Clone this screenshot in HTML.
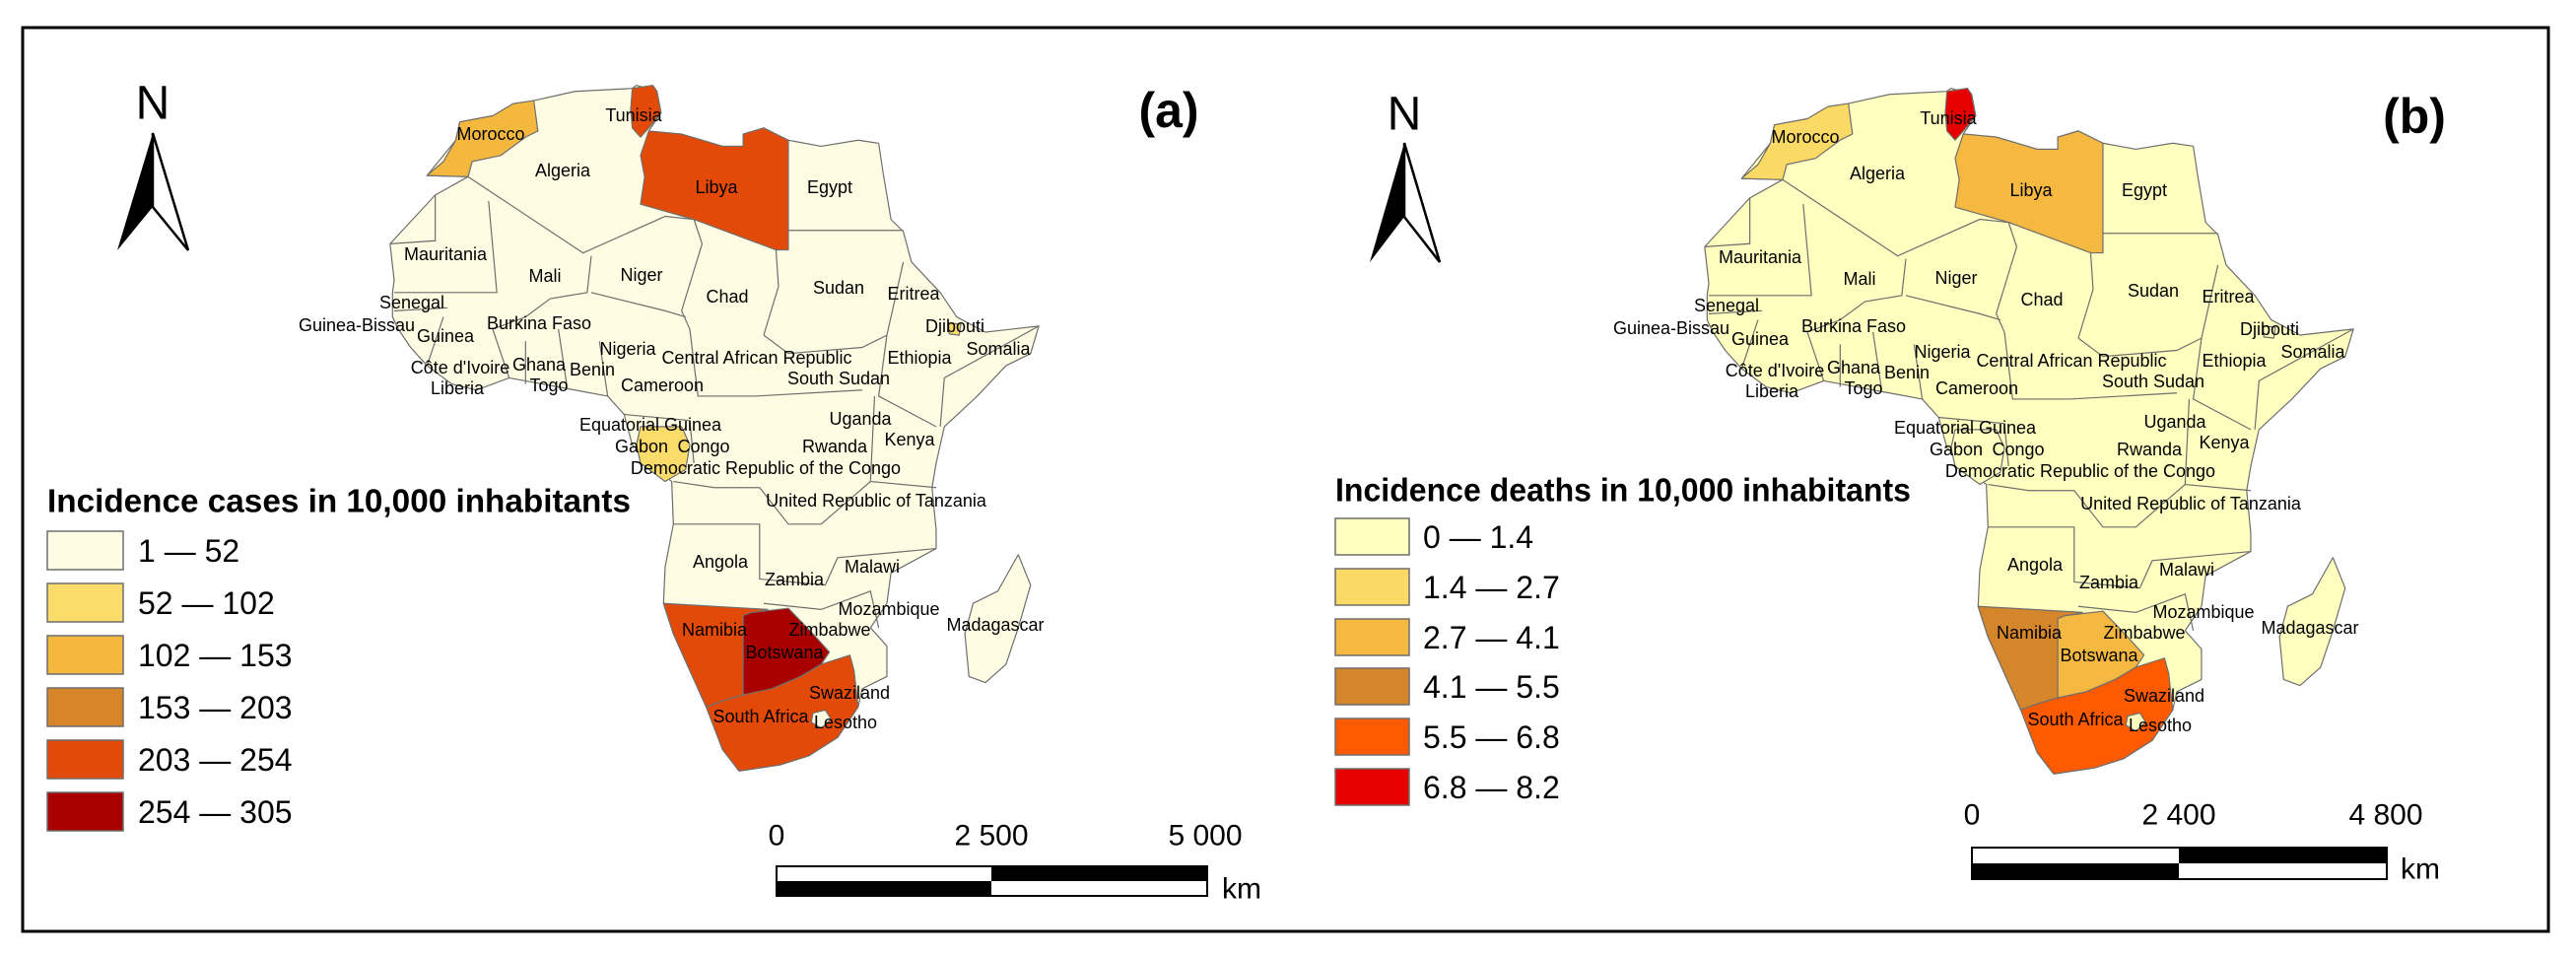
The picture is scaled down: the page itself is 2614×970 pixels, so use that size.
<!DOCTYPE html>
<html><head><meta charset="utf-8"><style>
html,body{margin:0;padding:0;background:#fff;}
svg{display:block;font-family:"Liberation Sans",Arial,sans-serif;}
.lbl{font-family:"Liberation Sans",Arial,sans-serif;font-size:18px;fill:#000;text-anchor:middle;dominant-baseline:central;}
.poly{stroke:#6e6e6e;stroke-width:1.2;vector-effect:non-scaling-stroke;stroke-linejoin:round;}
.bd{fill:none;stroke:#6e6e6e;stroke-width:1.2;vector-effect:non-scaling-stroke;}
.lg{font-size:32px;dominant-baseline:central;}
.ttl{font-weight:bold;font-size:33px;font-family:"Liberation Sans Narrow","Liberation Sans",sans-serif;dominant-baseline:central;}
.sc{font-size:30px;text-anchor:middle;dominant-baseline:central;}
</style></head><body>
<svg width="2614" height="970" viewBox="0 0 2614 970">
<rect x="0" y="0" width="2614" height="970" fill="#fff"/>
<rect x="23" y="28" width="2563" height="917" fill="none" stroke="#000" stroke-width="3"/>

<!-- PANEL A -->
<g id="panelA">
 <g id="mapA">
  <g transform="scale(0.8333,0.6184)">
   <path class="poly" fill="#fefde3" d="M600,190 L650,165 L700,150 L770,145 L775,140 L800,150 L805,185 L790,215 L830,220 L880,240 L905,240 L905,220 L930,210 L960,230 L1000,240 L1045,230 L1070,235 L1075,280 L1085,360 L1100,380 L1110,430 L1145,480 L1165,520 L1200,545 L1265,535 L1255,580 L1225,600 L1190,650 L1150,700 L1140,760 L1135,800 L1140,870 L1140,900 L1085,940 L1080,990 L1060,1030 L1080,1060 L1080,1110 L1050,1130 L1045,1160 L1020,1210 L985,1240 L950,1255 L900,1265 L880,1230 L860,1160 L840,1100 L820,1040 L808,990 L810,930 L820,860 L818,790 L800,770 L770,730 L760,680 L740,650 L700,640 L660,630 L620,620 L580,640 L550,630 L520,600 L500,570 L485,540 L478,520 L478,480 L480,460 L475,400 L530,320 L570,290 L520,288 L555,230 L560,200 Z"/>
   <path class="poly" fill="#fefde3" d="M1240,910 L1255,960 L1240,1030 L1225,1090 L1200,1120 L1180,1110 L1175,1040 L1185,990 L1215,970 Z"/>
   <path class="bd" d="M570,290 L710,415 L810,355 L845,360 M530,320 L530,395 L475,400 M595,330 L605,480 L480,480 M720,420 L715,480 L670,490 L640,520 L600,540 M845,360 L855,400 L830,510 L840,540 M945,410 L948,470 L930,550 M960,378 L1100,378 M720,480 L810,510 L835,520 M840,540 L850,650 L920,650 L1050,640 M930,550 L960,580 L1050,570 L1080,550 L1100,430 M1080,550 L1070,650 L1140,700 M1265,535 L1150,620 L1145,700 M820,790 L870,800 L925,800 L960,860 L1000,860 L1060,790 L1065,650 M820,860 L925,860 L925,950 L1005,960 L1020,915 L1140,900 M930,990 L1000,1000 L1060,970 L1070,1030 M1060,790 L1140,800 M600,540 L620,620 M640,560 L640,630 M680,540 L690,630 M730,560 L740,650 M540,520 L520,600 M480,510 L545,505 M760,680 L840,690 L845,760"/>
   <path class="poly" data-c="morocco" fill="#f5b83f" d="M520,288 L570,290 L575,265 L610,255 L640,225 L655,215 L650,165 L625,170 L600,190 L560,200 L555,230 L540,265 Z"/>
   <path class="poly" data-c="tunisia" fill="#e34a07" d="M770,145 L795,140 L800,150 L805,185 L790,210 L780,225 L770,210 L768,180 Z"/>
   <path class="poly" data-c="libya" fill="#e34a07" d="M790,215 L830,220 L880,240 L905,240 L905,220 L930,210 L960,230 L960,410 L945,410 L845,360 L780,335 L785,290 L780,255 Z"/>
   <path class="poly" data-c="gabon" fill="#fbdc6a" d="M780,700 L830,700 L840,730 L835,770 L810,790 L780,760 L775,730 Z"/>
   <path class="poly" data-c="djibouti" fill="#fbdc6a" d="M1155,530 L1170,532 L1168,550 L1156,548 Z"/>
   <path class="poly" data-c="namibia" fill="#e34a07" d="M808,990 L935,1000 L905,1010 L905,1140 L880,1150 L860,1160 L840,1100 L820,1040 Z"/>
   <path class="poly" data-c="botswana" fill="#a80000" d="M915,1005 L960,998 L990,1040 L1010,1070 L1000,1090 L975,1110 L940,1130 L915,1140 L905,1140 L905,1010 Z"/>
   <path class="poly" data-c="southafrica" fill="#e34a07" d="M860,1160 L880,1150 L905,1140 L940,1130 L975,1110 L1000,1090 L1035,1075 L1040,1100 L1045,1160 L1020,1210 L985,1240 L950,1255 L900,1265 L880,1230 Z"/>
   <path class="poly" fill="#fefde3" data-c="lesotho" d="M990,1170 L1005,1165 L1012,1180 L1000,1195 L988,1185 Z"/>
  </g>
  <g>
   <text class="lbl" x="643" y="117">Tunisia</text>
   <text class="lbl" x="498" y="136">Morocco</text>
   <text class="lbl" x="571" y="173">Algeria</text>
   <text class="lbl" x="727" y="190">Libya</text>
   <text class="lbl" x="842" y="190">Egypt</text>
   <text class="lbl" x="452" y="258">Mauritania</text>
   <text class="lbl" x="553" y="280">Mali</text>
   <text class="lbl" x="651" y="279">Niger</text>
   <text class="lbl" x="738" y="301">Chad</text>
   <text class="lbl" x="851" y="292">Sudan</text>
   <text class="lbl" x="927" y="298">Eritrea</text>
   <text class="lbl" x="418" y="307">Senegal</text>
   <text class="lbl" x="362" y="330">Guinea-Bissau</text>
   <text class="lbl" x="547" y="328">Burkina Faso</text>
   <text class="lbl" x="452" y="341">Guinea</text>
   <text class="lbl" x="969" y="331">Djibouti</text>
   <text class="lbl" x="1013" y="354">Somalia</text>
   <text class="lbl" x="637" y="354">Nigeria</text>
   <text class="lbl" x="768" y="363">Central African Republic</text>
   <text class="lbl" x="933" y="363">Ethiopia</text>
   <text class="lbl" x="467" y="373">Côte d'Ivoire</text>
   <text class="lbl" x="547" y="370">Ghana</text>
   <text class="lbl" x="601" y="375">Benin</text>
   <text class="lbl" x="851" y="384">South Sudan</text>
   <text class="lbl" x="464" y="394">Liberia</text>
   <text class="lbl" x="557" y="391">Togo</text>
   <text class="lbl" x="672" y="391">Cameroon</text>
   <text class="lbl" x="873" y="425">Uganda</text>
   <text class="lbl" x="660" y="431">Equatorial Guinea</text>
   <text class="lbl" x="923" y="446">Kenya</text>
   <text class="lbl" x="651" y="453">Gabon</text>
   <text class="lbl" x="714" y="453">Congo</text>
   <text class="lbl" x="847" y="453">Rwanda</text>
   <text class="lbl" x="777" y="475">Democratic Republic of the Congo</text>
   <text class="lbl" x="889" y="508">United Republic of Tanzania</text>
   <text class="lbl" x="731" y="570">Angola</text>
   <text class="lbl" x="885" y="575">Malawi</text>
   <text class="lbl" x="806" y="588">Zambia</text>
   <text class="lbl" x="902" y="618">Mozambique</text>
   <text class="lbl" x="1010" y="634">Madagascar</text>
   <text class="lbl" x="725" y="639">Namibia</text>
   <text class="lbl" x="842" y="639">Zimbabwe</text>
   <text class="lbl" x="796" y="662">Botswana</text>
   <text class="lbl" x="862" y="703">Swaziland</text>
   <text class="lbl" x="772" y="727">South Africa</text>
   <text class="lbl" x="858" y="733">Lesotho</text>
  </g>
 </g>
 <text x="155" y="105" font-size="48" text-anchor="middle" dominant-baseline="central">N</text>
 <g>
  <path d="M155,135 L119,254 L155,210 Z" fill="#000"/>
  <path d="M155,135 L191,254 L155,210 Z" fill="#fff" stroke="#000" stroke-width="2.5"/>
 </g>
 <text x="1186" y="112" font-size="50" font-weight="bold" text-anchor="middle" dominant-baseline="central">(a)</text>
 <g>
  <text class="ttl" x="48" y="508" textLength="592" lengthAdjust="spacingAndGlyphs">Incidence cases in 10,000 inhabitants</text>
  <rect x="48" y="539" width="77" height="39" fill="#fefde3" stroke="#6e6e6e" stroke-width="1.5"/><text class="lg" x="140" y="559">1 — 52</text>
  <rect x="48" y="592" width="77" height="39" fill="#fbdc6a" stroke="#6e6e6e" stroke-width="1.5"/><text class="lg" x="140" y="612">52 — 102</text>
  <rect x="48" y="645" width="77" height="39" fill="#f5b83f" stroke="#6e6e6e" stroke-width="1.5"/><text class="lg" x="140" y="665">102 — 153</text>
  <rect x="48" y="698" width="77" height="39" fill="#d68529" stroke="#6e6e6e" stroke-width="1.5"/><text class="lg" x="140" y="718">153 — 203</text>
  <rect x="48" y="751" width="77" height="39" fill="#e34a07" stroke="#6e6e6e" stroke-width="1.5"/><text class="lg" x="140" y="771">203 — 254</text>
  <rect x="48" y="804" width="77" height="39" fill="#a80000" stroke="#6e6e6e" stroke-width="1.5"/><text class="lg" x="140" y="824">254 — 305</text>
 </g>
 <g>
  <text class="sc" x="788" y="848">0</text><text class="sc" x="1006" y="848">2 500</text><text class="sc" x="1223" y="848">5 000</text>
  <rect x="788" y="879" width="437" height="30" fill="#fff" stroke="#000" stroke-width="2"/>
  <rect x="1006" y="879" width="219" height="15" fill="#000"/>
  <rect x="788" y="894" width="218" height="15" fill="#000"/>
  <text x="1240" y="902" font-size="30" dominant-baseline="central">km</text>
 </g>
</g>

<!-- PANEL B -->
<g id="panelB">
 <g id="mapBHolder" transform="translate(1334,3)"></g>
 <text x="1425" y="116" font-size="48" text-anchor="middle" dominant-baseline="central">N</text>
 <g>
  <path d="M1425,145 L1390,266 L1425,220 Z" fill="#000"/>
  <path d="M1425,145 L1461,266 L1425,220 Z" fill="#fff" stroke="#000" stroke-width="2.5"/>
 </g>
 <text x="2450" y="118" font-size="50" font-weight="bold" text-anchor="middle" dominant-baseline="central">(b)</text>
 <g>
  <text class="ttl" x="1355" y="497" textLength="584" lengthAdjust="spacingAndGlyphs">Incidence deaths in 10,000 inhabitants</text>
  <rect x="1355" y="526" width="75" height="37" fill="#ffffc0" stroke="#6e6e6e" stroke-width="1.5"/><text class="lg" x="1444" y="545">0 — 1.4</text>
  <rect x="1355" y="577" width="75" height="37" fill="#fad965" stroke="#6e6e6e" stroke-width="1.5"/><text class="lg" x="1444" y="596">1.4 — 2.7</text>
  <rect x="1355" y="628" width="75" height="37" fill="#f5b841" stroke="#6e6e6e" stroke-width="1.5"/><text class="lg" x="1444" y="647">2.7 — 4.1</text>
  <rect x="1355" y="678" width="75" height="37" fill="#d6862a" stroke="#6e6e6e" stroke-width="1.5"/><text class="lg" x="1444" y="697">4.1 — 5.5</text>
  <rect x="1355" y="729" width="75" height="37" fill="#fe5a00" stroke="#6e6e6e" stroke-width="1.5"/><text class="lg" x="1444" y="748">5.5 — 6.8</text>
  <rect x="1355" y="780" width="75" height="37" fill="#e60000" stroke="#6e6e6e" stroke-width="1.5"/><text class="lg" x="1444" y="799">6.8 — 8.2</text>
 </g>
 <g>
  <text class="sc" x="2001" y="827">0</text><text class="sc" x="2211" y="827">2 400</text><text class="sc" x="2421" y="827">4 800</text>
  <rect x="2001" y="860" width="421" height="32" fill="#fff" stroke="#000" stroke-width="2"/>
  <rect x="2211" y="860" width="211" height="16" fill="#000"/>
  <rect x="2001" y="876" width="210" height="16" fill="#000"/>
  <text x="2436" y="882" font-size="30" dominant-baseline="central">km</text>
 </g>
</g>
</svg>
<script>
var deathColors = {morocco:'#fad965', tunisia:'#e60000', libya:'#f5b841', gabon:'#ffffc0', djibouti:'#ffffc0', namibia:'#d6862a', botswana:'#f5b841', southafrica:'#fe5a00', lesotho:'#ffffc0'};
var src = document.getElementById('mapA');
var clone = src.cloneNode(true);
clone.removeAttribute('id');


clone.querySelectorAll('path').forEach(function(p){
  var c = p.getAttribute('data-c');
  if (c && deathColors[c]) p.setAttribute('fill', deathColors[c]);
  else if (p.getAttribute('fill') === '#fefde3') p.setAttribute('fill', '#ffffc0');
});
document.getElementById('mapBHolder').appendChild(clone);
</script>
</body></html>
